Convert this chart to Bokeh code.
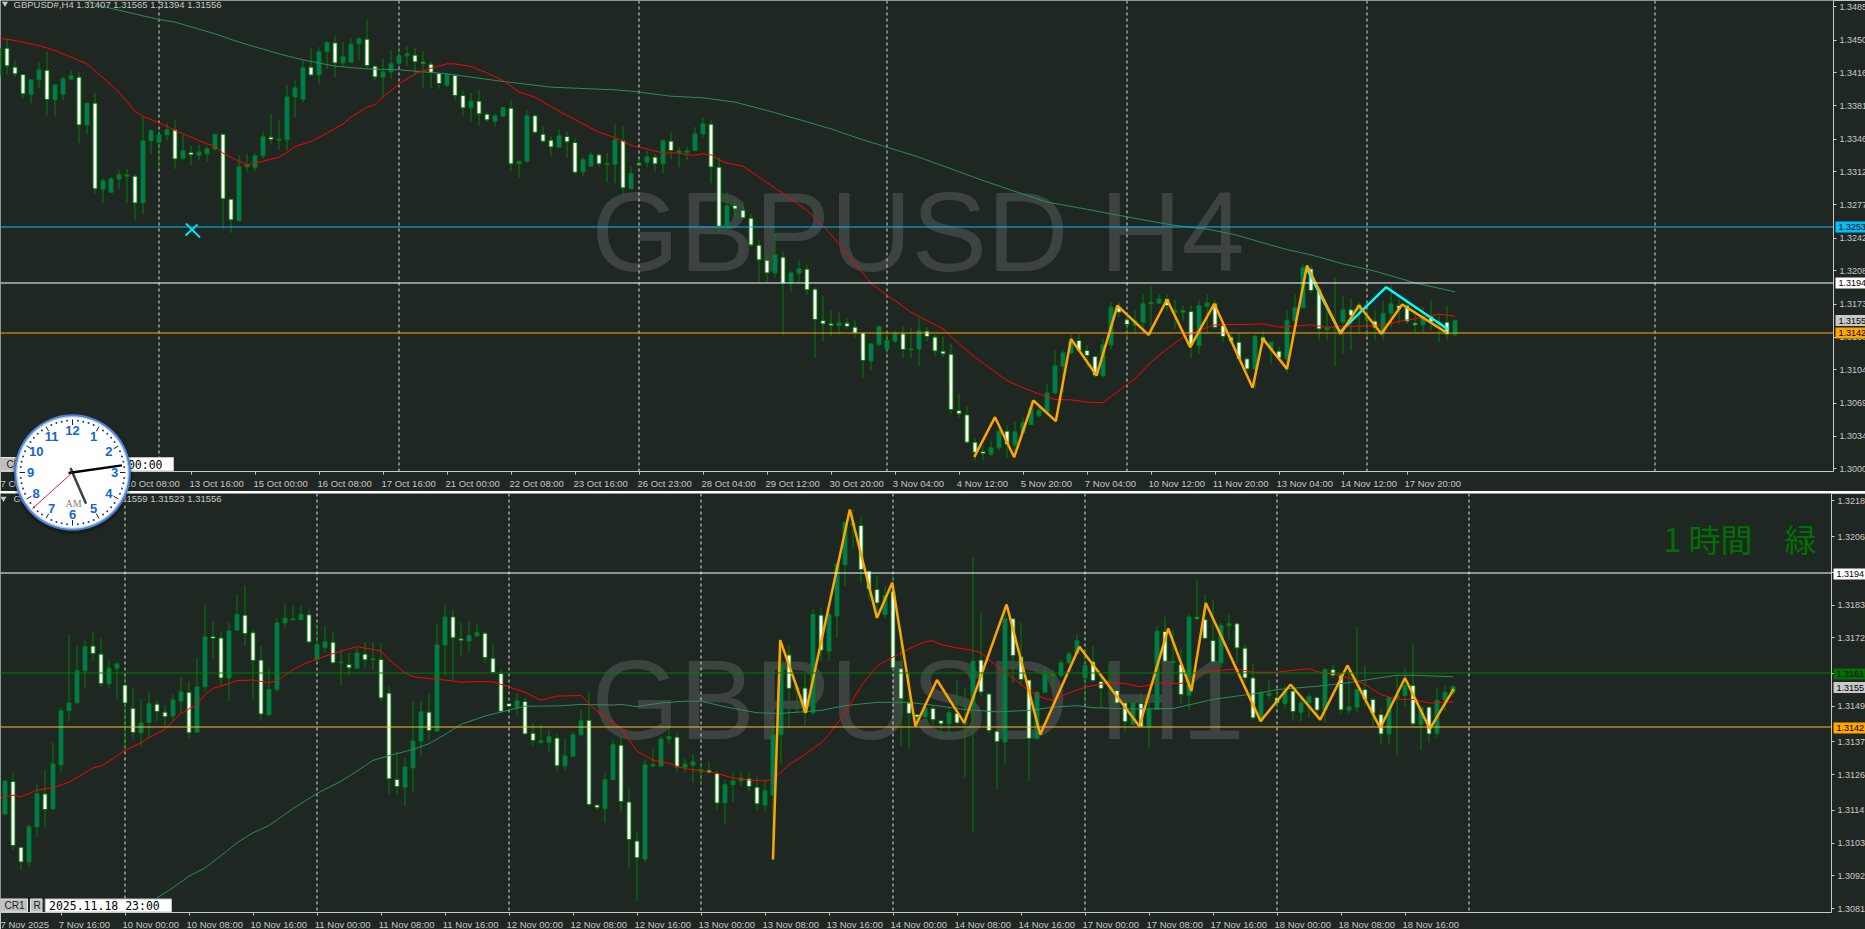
import math
from bokeh.embed import file_html
from bokeh.resources import INLINE
from bokeh.plotting import figure
from bokeh.layouts import column
from bokeh.models import FixedTicker, NumeralTickFormatter, Span, Label
from bokeh.core.properties import value

BG = "#1F2723"
GREY = "#C8C8C8"
WICK = "#008000"
TEAL = "#00786C"
AXFONT = "Liberation Sans"

# ---------- H4 candles, prices in points (1e-5) ----------
h4_dir = ("TWWWTTWTTT" "WTWTTTTWTT" "TTWTWTTTWW" "TTTTWTTTTW" "TTWTTTWWTT" "TTWWWWTWWT"
          "WWTTWTTWWW" "TWWTTWTTWT" "WTWTWTTTTW" "WTWWWWWTWT" "TWWWWTWWWT" "TTTWTTWWWW"
          "WWWWTTWTTT" "TTTTTWWWTT" "WWTTTTWTTW" "TTWWWWWTWT" "WTTTWWTTTW" "TTWTTWWWTW" "TWT")
h4_top = [134416,134416,134217,134140,134084,134189,134185,134031,134095,134126,
 134112,133839,133839,133024,133045,133086,133086,133072,133443,133549,
 133506,133559,133559,133339,133321,133325,133359,133513,133513,132831,
 133171,133192,133286,133486,133482,133461,133905,134000,134210,134217,
 134378,134476,134472,134325,134458,134514,134511,134227,134168,134252,
 134336,134357,134343,134269,134248,134150,134140,134129,133919,133860,
 133860,133723,133706,133793,133786,133230,133706,133706,133513,133450,
 133496,133489,133426,133244,133296,133296,133205,133454,133447,133100,
 133209,133275,133272,133443,133440,133338,133338,133517,133622,133618,
 133167,132761,132764,132715,132631,132348,132190,132246,132222,132057,
 132099,132096,131886,131557,131522,131532,131529,131487,131427,131312,
 131494,131347,131424,131417,131259,131448,131445,131382,131235,131203,
 130612,130566,130279,130181,130220,130395,130395,130388,130482,130640,
 130612,130797,131081,131217,131340,131347,131242,131179,131301,131697,
 131697,131564,131550,131732,131749,131784,131784,131662,131662,131651,
 131714,131739,131732,131504,131382,131329,131154,131389,131382,131329,
 131235,131557,131690,132110,132099,131879,131487,131494,131669,131669,
 131721,131592,131550,131634,131732,131714,131714,131529,131592,131599,
 131539,131539,131556]
h4_bot = [134129,134231,134147,133937,133933,134084,133877,133874,133933,134091,
 133611,133611,132940,132936,132904,133041,133072,132792,132792,133443,
 133429,133506,133254,133262,133297,133293,133307,133359,132835,132614,
 132607,133171,133167,133286,133457,133451,133454,133905,133881,134136,
 134136,134378,134262,134262,134269,134462,134234,134115,134112,134168,
 134259,134336,134273,134255,134164,134045,134028,133919,133790,133790,
 133727,133664,133650,133702,133202,133202,133230,133534,133440,133380,
 133377,133433,133114,133118,133177,133202,133198,133198,132950,132943,
 133191,133219,133202,133202,133342,133321,133321,133342,133517,133170,
 132547,132547,132729,132635,132351,132194,132057,132057,131949,131959,
 132054,131879,131567,131522,131504,131504,131494,131427,131137,131133,
 131305,131259,131340,131252,131249,131259,131389,131238,131207,130622,
 130577,130279,130174,130160,130153,130220,130255,130248,130381,130465,
 130559,130594,130797,131077,131217,131242,131189,130979,130979,131301,
 131644,131515,131504,131539,131732,131739,131714,131644,131644,131294,
 131294,131704,131487,131389,131340,131154,131049,131049,131340,131259,
 131165,131154,131557,131690,131872,131469,131459,131480,131539,131609,
 131669,131564,131480,131417,131634,131679,131546,131511,131511,131539,
 131522,131410,131407]
h4_high = [134427,134514,134287,134140,134084,134276,134381,134031,134119,134189,
 134164,133839,133947,133058,133062,133139,133149,133097,133699,133559,
 133552,133629,133664,133506,133394,133405,133394,133517,133513,132831,
 133300,133314,133314,133541,133727,133664,134031,134077,134287,134420,
 134427,134490,134549,134479,134514,134539,134717,134234,134304,134392,
 134444,134434,134420,134381,134276,134164,134154,134129,133972,133944,
 133982,133744,133727,133804,133867,133230,133762,133720,133594,133489,
 133569,133545,133475,133272,133324,133314,133314,133615,133594,133174,
 133254,133342,133307,133464,133531,133384,133384,133587,133692,133667,
 133272,132911,132834,132806,132677,132407,132239,132467,132285,132075,
 132187,132141,131907,131809,131662,131651,131574,131567,131427,131312,
 131504,131452,131452,131494,131476,131592,131487,131410,131389,131312,
 130794,130654,130314,130244,130297,130419,130454,130500,130542,130717,
 130664,130892,131242,131242,131417,131417,131294,131189,131364,131749,
 131749,131627,131662,131837,131914,131837,131837,131774,131714,131714,
 131767,131837,131774,131522,131434,131431,131172,131406,131445,131329,
 131284,131662,131837,132152,132134,131879,131679,132012,131809,131784,
 131749,131679,131662,131767,131931,131784,131767,131662,131697,131767,
 131627,131714,131565]
h4_low = [134129,134140,134112,133884,133839,133996,133710,133699,133867,134077,
 133419,133510,132894,132789,132904,132940,132789,132607,132670,133307,
 133149,133447,133149,133237,133185,133237,133219,133342,132519,132477,
 132593,133114,133125,133254,133405,133352,133342,133692,133849,134119,
 134042,134199,134112,134217,134269,134294,134199,134077,133895,134094,
 134234,134234,134129,133996,134000,133989,134007,133874,133709,133646,
 133604,133639,133594,133692,133125,133051,133219,133517,133429,133279,
 133377,133265,133097,133069,133177,133167,133002,132999,132862,132943,
 133184,133167,133121,133104,133254,133167,133237,133335,133482,132999,
 132467,132537,132652,132635,132327,131970,131942,132012,131399,131861,
 131959,131830,131165,131340,131389,131406,131469,131382,130962,131032,
 131284,131207,131319,131161,131161,131077,131340,131182,131172,130584,
 130542,130262,130087,130094,130139,130192,130115,130122,130381,130465,
 130542,130584,130787,130804,131207,131224,131067,130962,130955,131259,
 131592,131347,131417,131417,131417,131732,131662,131469,131557,131161,
 131207,131417,131469,131329,131312,131137,131032,130839,131312,131102,
 131144,131004,131539,131679,131837,131347,131347,131077,131214,131242,
 131417,131399,131347,131347,131487,131522,131522,131434,131434,131452,
 131329,131347,131394]

h4_red_bar = [0,2,5,7,9,11,13,15,17,18,20,22,24,26,27,28,30,31,33,35,36,37,39,41,43,44,46,47,48,50,52,54,56,57,59,61,63,65,67,69,71,73,75,77,78,79,81,83,85,86,87,88,89,90,91,93,95,97,99,101,103,105,107,109,111,112,114,116,118,120,122,124,126,128,130,132,134,136,138,140,142,144,146,148,150,152,154,156,158,160,162,164,166,168,170,173,175,177,179,180,182]
h4_red_val = [134522,134497,134444,134392,134322,134252,134105,133955,133752,133702,133632,133552,133482,133412,133387,133314,133227,133192,133230,133272,133321,133384,133436,133524,133622,133692,133797,133825,133902,134042,134147,134206,134252,134252,134224,134157,134077,133955,133902,133804,133709,133622,133534,133475,133440,133394,133359,133314,133317,133297,133293,133307,133297,133244,133209,133177,133062,132947,132834,132712,132554,132362,132152,131949,131819,131767,131644,131557,131469,131312,131172,131049,130927,130850,130787,130727,130724,130700,130693,130822,130944,131119,131259,131382,131452,131512,131515,131515,131522,131487,131497,131512,131487,131494,131497,131504,131550,131574,131609,131624,131602]
h4_sea_bar = [11,13,20,22,27,30,35,38,42,46,50,52,56,59,63,69,77,79,84,88,92,96,100,104,108,111,115,119,123,127,131,135,139,143,147,151,154,155,158,161,164,168,172,177,182]
h4_sea_val = [134917,134854,134717,134690,134567,134480,134357,134294,134227,134199,134189,134175,134147,134112,134067,134007,133979,133965,133912,133895,133850,133762,133667,133569,133454,133377,133272,133149,133027,132912,132800,132740,132677,132614,132555,132516,132467,132446,132372,132302,132246,132152,132075,131952,131858]
h4_zig_bar = [121.9,124.5,126.9,129.3,132.1,134,137.2,139.8,143.7,146,148.9,151.9,156.7,158,161,163.5,167.7,170,172.8,175.4,181]
h4_zig_val = [130122,130542,130122,130717,130500,131364,130979,131714,131406,131778,131277,131732,130850,131364,131049,132134,131417,131714,131417,131725,131427]
h4_cyan_bar = [163.5,167.6,173.4,181.2]
h4_cyan_val = [132099,131434,131907,131459]
h4_separators = [20,50,80,111,141,171,207]
h4_tick_bars = [8,16,24,32,40,48,56,64,72,80,88,96,104,112,120,128,136,144,152,160,168,176]
h4_tick_labels = ["9 Oct 00:00","10 Oct 08:00","13 Oct 16:00","15 Oct 00:00","16 Oct 08:00","17 Oct 16:00","21 Oct 00:00","22 Oct 08:00","23 Oct 16:00","26 Oct 23:00","28 Oct 04:00","29 Oct 12:00","30 Oct 20:00","3 Nov 04:00","4 Nov 12:00","5 Nov 20:00","7 Nov 04:00","10 Nov 12:00","11 Nov 20:00","13 Nov 04:00","14 Nov 12:00","17 Nov 20:00"]
h4_price_ticks = [1.3485,1.3450,1.3416,1.3381,1.3346,1.3312,1.3277,1.3242,1.3208,1.3173,1.3138,1.3104,1.3069,1.3034,1.3000]
h4_line_prices = [1.325388,1.319508,1.314258]
h4_line_colors = ["#00BFFF","#FFFFFF","#FFA500"]
h4_tag_prices = [1.325388,1.319508,1.31556,1.314258]
h4_tag_texts = ["1.3253","1.3194","1.3155","1.3142"]
h4_tag_colors = ["#00BFFF","#FFFFFF","#C8C8C8","#FFA500"]

# ---------- H1 candles ----------
h1_dir = ("TWWTTWTTTT" "TWWTTWWTTW" "WTTWTTWWTT" "WWWTTTTTWT" "TWTWTWTWWW" "TTTWTTWWTT"
          "WWWWTWWTTW" "TTTWWTTWWW" "TTTTWTTTWW" "TTTWWTTTWT" "WTWTTTTWWW" "TWWWWTWWTW"
          "TTWWWTWWWT" "TWTTTTWWTW" "WTWTTWTWTW" "WWTTWWWTTW" "TWTTWTWWTT" "WWWTTTWTWT" "TT")
h1_top = [131239,131237,131016,131085,131196,131195,131296,131475,131501,131609,
 131690,131692,131665,131618,131632,131561,131483,131434,131498,131497,
 131470,131511,131538,131537,131555,131723,131724,131719,131743,131798,
 131796,131737,131645,131546,131770,131785,131784,131798,131797,131696,
 131706,131705,131638,131630,131669,131665,131649,131647,131534,131244,
 131286,131373,131471,131470,131696,131790,131790,131716,131727,131738,
 131735,131651,131600,131499,131508,131506,131399,131374,131388,131383,
 131323,131394,131441,131443,131158,131243,131361,131359,131168,131037,
 131293,131294,131380,131388,131386,131296,131303,131277,131275,131265,
 131226,131239,131249,131247,131218,131206,131394,131630,131662,131552,
 131551,131798,131796,131798,131968,132106,132106,132097,131944,131882,
 131862,131877,131616,131501,131462,131485,131483,131442,131468,131466,
 131434,131641,131645,131531,131406,131784,131784,131656,131578,131537,
 131598,131597,131636,131666,131710,131627,131639,131573,131574,131543,
 131501,131501,131499,131479,131742,131741,131641,131630,131790,131789,
 131781,131711,131761,131767,131767,131685,131585,131535,131533,131518,
 131541,131541,131501,131522,131519,131613,131613,131597,131488,131546,
 131546,131513,131462,131518,131526,131560,131560,131485,131487,131510,
 131537,131556]
h1_bot = [131128,131022,130967,130967,131085,131143,131145,131293,131475,131501,
 131609,131667,131566,131566,131618,131501,131402,131401,131436,131472,
 131455,131457,131507,131401,131403,131555,131718,131585,131585,131746,
 131734,131644,131464,131462,131546,131770,131781,131781,131706,131647,
 131688,131636,131636,131619,131618,131646,131646,131518,131246,131220,
 131218,131283,131373,131408,131406,131696,131720,131711,131709,131727,
 131654,131603,131473,131489,131485,131397,131375,131369,131369,131290,
 131290,131322,131394,131160,131149,131147,131243,131170,131042,130981,
 130977,131289,131289,131380,131286,131285,131292,131270,131267,131165,
 131165,131227,131239,131220,131162,131158,131191,131394,131550,131546,
 131468,131468,131678,131675,131793,131966,132097,131949,131884,131837,
 131798,131619,131515,131466,131454,131454,131445,131431,131431,131434,
 131431,131490,131538,131408,131371,131370,131660,131580,131382,131382,
 131537,131593,131593,131636,131666,131585,131576,131550,131569,131501,
 131438,131429,131421,131423,131479,131641,131636,131529,131527,131784,
 131718,131639,131636,131761,131686,131585,131451,131440,131526,131501,
 131499,131472,131470,131501,131477,131479,131593,131478,131477,131487,
 131513,131466,131397,131397,131518,131526,131431,131429,131397,131399,
 131510,131537]
h1_high = [131239,131266,131016,131093,131226,131277,131367,131488,131731,131694,
 131711,131737,131718,131647,131636,131593,131552,131515,131538,131510,
 131492,131529,131589,131574,131653,131832,131776,131742,131770,131865,
 131896,131748,131692,131619,131787,131835,131828,131828,131815,131765,
 131761,131737,131681,131669,131686,131706,131706,131703,131557,131339,
 131317,131507,131507,131533,131768,131832,131815,131770,131776,131768,
 131739,131701,131613,131499,131533,131518,131434,131429,131412,131395,
 131380,131404,131479,131541,131158,131268,131378,131387,131216,131070,
 131311,131347,131389,131429,131401,131313,131330,131302,131305,131275,
 131244,131268,131272,131266,131252,131244,131434,131712,131697,131552,
 131597,131815,131821,131809,131974,132112,132151,132126,131944,131929,
 131896,131927,131753,131602,131462,131496,131496,131445,131490,131578,
 131552,131991,131804,131531,131406,131826,131784,131770,131578,131541,
 131619,131613,131647,131675,131734,131681,131692,131591,131638,131546,
 131507,131507,131535,131513,131759,131790,131748,131686,131798,131916,
 131865,131849,131770,131798,131772,131697,131634,131546,131578,131546,
 131560,131552,131524,131533,131524,131619,131630,131602,131608,131757,
 131627,131518,131482,131518,131597,131619,131701,131490,131490,131552,
 131560,131559]
h1_low = [131123,131006,130939,130950,131050,131084,131143,131266,131440,131499,
 131552,131641,131555,131552,131513,131345,131378,131354,131384,131440,
 131417,131440,131468,131380,131401,131541,131649,131557,131507,131742,
 131692,131513,131442,131454,131537,131753,131776,131779,131703,131638,
 131669,131630,131560,131594,131616,131616,131611,131505,131193,131193,
 131154,131201,131322,131375,131406,131591,131574,131660,131672,131720,
 131634,131600,131468,131487,131459,131395,131358,131361,131339,131272,
 131274,131322,131389,131154,131141,131098,131242,131132,130947,130835,
 130966,131289,131285,131361,131266,131266,131233,131227,131264,131143,
 131093,131168,131221,131205,131140,131137,130975,131294,131417,131468,
 131423,131462,131641,131641,131720,131893,132022,131905,131849,131787,
 131787,131613,131356,131345,131417,131434,131423,131378,131384,131429,
 131252,131070,131524,131398,131210,131294,131569,131563,131238,131376,
 131535,131546,131585,131630,131664,131501,131574,131485,131501,131496,
 131401,131429,131414,131347,131479,131630,131563,131499,131477,131781,
 131714,131636,131619,131714,131636,131574,131445,131436,131513,131481,
 131482,131443,131440,131451,131451,131434,131585,131466,131466,131470,
 131490,131423,131361,131361,131324,131488,131423,131342,131367,131386,
 131476,131523]

h1_red_bar = [-0.5,1,2,4,6,8,10,11,12,13,15,17,18,20,21,22,24,25,26,28,29,31,33,34,36,38,40,42,44,46,47,48,50,51,53,55,57,59,61,63,65,67,69,72,74,76,77,79,81,83,85,87,89,91,93,95,96,98,100,102,103,105,107,109,111,113,115,116,117,119,121,122,124,126,128,130,131,133,135,138,140,142,144,147,149,151,153,154.5,156,159,161,163,164,166,168,170,172,174,176,178,181]
h1_red_val = [131182,131191,131186,131208,131216,131235,131266,131283,131289,131305,131342,131367,131384,131412,131440,131466,131496,131529,131550,131566,131576,131578,131569,131576,131613,131639,131658,131675,131690,131681,131675,131647,131602,131589,131583,131578,131571,131573,131572,131555,131537,131510,131524,131526,131473,131434,131417,131339,131309,131298,131280,131274,131264,131249,131242,131239,131244,131294,131328,131367,131395,131468,131557,131625,131655,131683,131707,131710,131697,131686,131678,131669,131625,131585,131541,131515,131510,131535,131554,131569,131566,131555,131569,131566,131597,131608,131613,131613,131604,131604,131611,131616,131606,131599,131585,131563,131529,131513,131513,131501,131505]
h1_sea_bar = [19,21,23,25,27,29,31,33,36,39,42,44,46,48,51,53,55,57,60,63,65,69,72,76,77,79,82,85,87,90,94,97,102,105,109,113,117,120,124,128,131,134,136,141,146,151,154.5,157,159,164,168,171,174,176,181]
h1_sea_val = [130846,130880,130919,130947,130988,131031,131065,131089,131146,131197,131238,131272,131308,131324,131345,131364,131395,131429,131457,131477,131490,131491,131496,131494,131496,131489,131501,131507,131507,131488,131468,131466,131476,131492,131503,131503,131490,131479,131471,131476,131487,131492,131485,131481,131482,131513,131526,131535,131546,131557,131569,131582,131594,131594,131589]
h1_zig_bar = [96,96.9,100.1,105.6,109,110.9,113.8,116.5,119.9,125.2,129.4,134.3,141.8,145.4,148.3,150.1,156.95,160.7,164.4,167.8,171.9,175,178.1,181.1]
h1_zig_val = [130975,131712,131468,132151,131787,131905,131423,131578,131434,131832,131395,131690,131423,131751,131541,131837,131440,131563,131445,131627,131417,131585,131414,131548]
h1_separators = [15,39,63,87,111,135,159,183]
h1_tick_bars = [7,15,23,31,39,47,55,63,71,79,87,95,103,111,119,127,135,143,151,159,167,175]
h1_tick_labels = ["7 Nov 16:00","10 Nov 00:00","10 Nov 08:00","10 Nov 16:00","11 Nov 00:00","11 Nov 08:00","11 Nov 16:00","12 Nov 00:00","12 Nov 08:00","12 Nov 16:00","13 Nov 00:00","13 Nov 08:00","13 Nov 16:00","14 Nov 00:00","14 Nov 08:00","14 Nov 16:00","17 Nov 00:00","17 Nov 08:00","17 Nov 16:00","18 Nov 00:00","18 Nov 08:00","18 Nov 16:00"]
h1_price_ticks = [1.3218,1.3206,1.3194,1.3183,1.3172,1.3160,1.3149,1.3137,1.3126,1.3114,1.3103,1.3092,1.3081]
h1_line_prices = [1.319376,1.316016,1.314202]
h1_line_colors = ["#FFFFFF","#008000","#FFB732"]
h1_tag_prices = [1.319376,1.316016,1.31556,1.314202]
h1_tag_texts = ["1.3194","1.3161","1.3155","1.3142"]
h1_tag_colors = ["#FFFFFF","#007000","#C8C8C8","#FFA500"]

# clock reading
clock_hour, clock_minute, clock_second = 5, 13, 38


def direction_split(dirs, tops, bots):
    o = [b if d == "T" else t for d, t, b in zip(dirs, tops, bots)]
    c = [t if d == "T" else b for d, t, b in zip(dirs, tops, bots)]
    return o, c


def make_panel(height, frame_h, frame_w, xr, yr, ticks, tick_bars, labels, first_label):
    p = figure(width=1865, height=height, frame_width=frame_w, frame_height=frame_h,
               x_range=xr, y_range=yr, toolbar_location=None, output_backend="svg",
               x_axis_location="below", y_axis_location="right",
               background_fill_color=BG, border_fill_color=BG,
               min_border_left=0, min_border_top=0, min_border_right=0, min_border_bottom=0,
               outline_line_color=None, tools="")
    p.grid.visible = False
    yax = p.yaxis[0]
    yax.ticker = FixedTicker(ticks=ticks)
    yax.formatter = NumeralTickFormatter(format="0.0000")
    yax.axis_line_color = GREY
    yax.major_tick_line_color = GREY
    yax.major_tick_out = 3
    yax.major_tick_in = 0
    yax.minor_tick_out = 0
    yax.minor_tick_in = 0
    yax.major_label_standoff = 3
    yax.major_label_text_color = GREY
    yax.major_label_text_font = AXFONT
    yax.major_label_text_font_size = "9px"
    xax = p.xaxis[0]
    centers = []
    over = {}
    for b, l in zip(tick_bars, labels):
        c = round(b + (len(l) * 4.45 / 2 - 1) / 8, 3)
        centers.append(c)
        over[c] = l
    c0, l0 = first_label
    centers.insert(0, c0)
    over[c0] = l0
    xax.ticker = FixedTicker(ticks=centers, minor_ticks=tick_bars)
    xax.major_label_overrides = over
    xax.axis_line_color = GREY
    xax.major_tick_line_color = None
    xax.major_tick_out = 0
    xax.major_tick_in = 0
    xax.minor_tick_line_color = GREY
    xax.minor_tick_out = 3
    xax.minor_tick_in = 0
    xax.major_label_standoff = 3
    xax.major_label_text_color = GREY
    xax.major_label_text_font = AXFONT
    xax.major_label_text_font_size = "9.5px"
    return p


def draw_candles(p, dirs, tops, bots, highs, lows, start_bar=0):
    o, c = direction_split(dirs, tops, bots)
    xs = [start_bar + i for i in range(len(dirs))]
    p.segment([x for x in xs], [h / 1e5 for h in highs], xs, [l / 1e5 for l in lows],
              line_color=WICK, line_width=1)
    up_x = [x for x, a, b in zip(xs, o, c) if b >= a]
    up_o = [a / 1e5 for a, b in zip(o, c) if b >= a]
    up_c = [b / 1e5 for a, b in zip(o, c) if b >= a]
    dn_x = [x for x, a, b in zip(xs, o, c) if b < a]
    dn_o = [a / 1e5 for a, b in zip(o, c) if b < a]
    dn_c = [b / 1e5 for a, b in zip(o, c) if b < a]
    p.vbar(up_x, 0.5, up_o, up_c, fill_color=TEAL, line_color=WICK, line_width=1)
    p.vbar(dn_x, 0.5, dn_c, dn_o, fill_color="#FFFFFF", line_color=WICK, line_width=1)


def tag_strip(y_range, left, top_px, height, left_inset, half_h, prices, texts, colors):
    w = 1865 - left
    s = figure(width=w, height=height, frame_width=w, frame_height=height,
               x_range=(0, w), y_range=y_range,
               toolbar_location=None, output_backend="svg", tools="",
               background_fill_color=None, border_fill_color=None, outline_line_color=None,
               min_border_left=0, min_border_right=0, min_border_top=0, min_border_bottom=0,
               x_axis_type=None, y_axis_type=None)
    s.grid.visible = False
    s.styles = {"position": "absolute", "left": f"{left}px", "top": f"{top_px}px"}
    s.quad(left=[left_inset] * len(prices), right=[w] * len(prices),
           top=[v + half_h for v in prices], bottom=[v - half_h for v in prices],
           fill_color=colors, line_color=None)
    s.text([left_inset + 3] * len(prices), prices, text=texts,
           text_font=value(AXFONT), text_font_size="9px", text_color="#000000",
           text_align="left", text_baseline="middle")
    return s


# ---------- top panel ----------
top_x0 = 0.1875
top_price_top = 1.34917
top_y = lambda py: top_price_top - py * 3 * 3.5e-5
top_x = lambda px: top_x0 + px / 8
top = make_panel(492, 471, 1833, (top_x0, top_x0 + 1833 / 8), (top_y(471), top_price_top),
                 h4_price_ticks, h4_tick_bars, h4_tick_labels, (2.94, "7 Oct 2025"))
top.add_layout(Label(x=591, y=top_y(231), x_units="screen", y_units="data", text="GBPUSD H4",
                     text_font="Liberation Sans", text_font_size="113px", text_color="#3C4341",
                     text_baseline="alphabetic", level="underlay"))
for s in h4_separators:
    top.add_layout(Span(location=s, dimension="height", line_color="#E0E0E0", line_dash="3 3",
                        line_width=1, level="underlay"))
draw_candles(top, h4_dir, h4_top, h4_bot, h4_high, h4_low)
top.line(h4_sea_bar, [v / 1e5 for v in h4_sea_val], line_color="#2E8B57", line_width=1)
top.line(h4_red_bar, [v / 1e5 for v in h4_red_val], line_color="#FF0000", line_width=1)
top.line(h4_cyan_bar, [v / 1e5 for v in h4_cyan_val], line_color="#00FFFF", line_width=2.5)
top.line(h4_zig_bar, [v / 1e5 for v in h4_zig_val], line_color="#FFA500", line_width=2.5)
for price, col in zip(h4_line_prices, h4_line_colors):
    top.add_layout(Span(location=price, dimension="width", line_color=col, line_width=1))
# tool marker
top.line([top_x(185.5), top_x(199.5)], [top_y(223), top_y(237)], line_color="#00E8E8", line_width=2)
top.line([top_x(197), top_x(185)], [top_y(224), top_y(235)], line_color="#00E8E8", line_width=2)
# header
top.add_layout(Label(x=13, y=top_y(3.5), x_units="screen", y_units="data",
                     text="GBPUSD#,H4  1.31407 1.31565 1.31394 1.31556",
                     text_font=AXFONT, text_font_size="9.5px", text_color=GREY,
                     text_baseline="middle"))
top.scatter([top_x(4.5)], [top_y(3)], marker="inverted_triangle", size=6, fill_color=GREY, line_color=None)
# date box
top.quad(left=[top_x(0)], right=[top_x(44)], top=[top_y(457)], bottom=[top_y(470.5)],
         fill_color="#C0C0C0", line_color="#E8E8E8")
top.quad(left=[top_x(46)], right=[top_x(173)], top=[top_y(457)], bottom=[top_y(470.5)],
         fill_color="#FFFFFF", line_color="#C0C0C0")
top.add_layout(Label(x=162, y=top_y(464), x_units="screen", y_units="data", text="2025.10.09 00:00",
                     text_font="DejaVu Sans Mono", text_font_size="11.5px", text_color="#000000",
                     text_align="right", text_baseline="middle"))
top.add_layout(Label(x=6, y=top_y(464), x_units="screen", y_units="data", text="CR1",
                     text_font=AXFONT, text_font_size="10px", text_color="#202020",
                     text_baseline="middle"))

# ---------- bottom panel ----------
bot_x0 = -0.5625
bot_y = lambda py: (131815 - 1.12 * (py - 610) * 3) / 1e5
bot_x = lambda px: bot_x0 + px / 8
bottom = make_panel(435, 419, 1831, (bot_x0, bot_x0 + 1831 / 8), (bot_y(913), bot_y(494)),
                    h1_price_ticks, h1_tick_bars, h1_tick_labels, (1.8, "7 Nov 2025"))
bottom.margin = (2, 0, 0, 0)
bottom.add_layout(Label(x=591, y=bot_y(700), x_units="screen", y_units="data", text="GBPUSD H1",
                        text_font="Liberation Sans", text_font_size="113px", text_color="#3C4341",
                        text_baseline="alphabetic", level="underlay"))
for s in h1_separators:
    bottom.add_layout(Span(location=s, dimension="height", line_color="#E0E0E0", line_dash="3 3",
                           line_width=1, level="underlay"))
draw_candles(bottom, h1_dir, h1_top, h1_bot, h1_high, h1_low)
bottom.line(h1_sea_bar, [v / 1e5 for v in h1_sea_val], line_color="#2E8B57", line_width=1)
bottom.line(h1_red_bar, [v / 1e5 for v in h1_red_val], line_color="#FF0000", line_width=1)
bottom.line(h1_zig_bar, [v / 1e5 for v in h1_zig_val], line_color="#FFA500", line_width=2.5)
for price, col in zip(h1_line_prices, h1_line_colors):
    bottom.add_layout(Span(location=price, dimension="width", line_color=col, line_width=1))
bottom.add_layout(Label(x=13, y=bot_y(499), x_units="screen", y_units="data",
                        text="GBPUSD#,H1  1.31537 1.31559 1.31523 1.31556",
                        text_font=AXFONT, text_font_size="9.5px", text_color=GREY,
                        text_baseline="middle"))
bottom.scatter([bot_x(3)], [bot_y(499)], marker="inverted_triangle", size=6, fill_color=GREY, line_color=None)
bottom.add_layout(Label(x=1663, y=bot_y(538), x_units="screen", y_units="data", text="1 時間　緑",
                        text_font="Noto Sans CJK JP", text_font_size="32px", text_color="#007000",
                        text_baseline="alphabetic"))
bottom.quad(left=[bot_x(0)], right=[bot_x(27)], top=[bot_y(899.5)], bottom=[bot_y(912.5)],
            fill_color="#C0C0C0", line_color="#E8E8E8")
bottom.quad(left=[bot_x(30)], right=[bot_x(41.5)], top=[bot_y(899.5)], bottom=[bot_y(912.5)],
            fill_color="#C0C0C0", line_color="#E8E8E8")
bottom.quad(left=[bot_x(44.7)], right=[bot_x(171)], top=[bot_y(899.5)], bottom=[bot_y(912.5)],
            fill_color="#FFFFFF", line_color="#C0C0C0")
for x_px, t in ((4, "CR1"), (33, "R")):
    bottom.add_layout(Label(x=x_px, y=bot_y(906), x_units="screen", y_units="data", text=t,
                            text_font=AXFONT, text_font_size="10px", text_color="#202020",
                            text_baseline="middle"))
bottom.add_layout(Label(x=48.5, y=bot_y(906), x_units="screen", y_units="data", text="2025.11.18 23:00",
                        text_font="DejaVu Sans Mono", text_font_size="11.5px", text_color="#000000",
                        text_baseline="middle"))

# ---------- price tags: strips over the right axis, sharing each panel's price range ----------
top_tags = tag_strip(top.y_range, 1834, 0, 471, 1, 5.5 * 3 * 3.5e-5, h4_tag_prices, h4_tag_texts, h4_tag_colors)
bot_tags = tag_strip(bottom.y_range, 1832, 494, 419, 1, 5.5 * 3 * 1.12e-5, h1_tag_prices, h1_tag_texts, h1_tag_colors)

# ---------- clock ----------
clock = figure(width=124, height=124, frame_width=124, frame_height=124,
               x_range=(-62, 62), y_range=(-62, 62), toolbar_location=None,
               output_backend="svg", tools="", background_fill_color=None, border_fill_color=None,
               outline_line_color=None, min_border_left=0, min_border_right=0, min_border_top=0,
               min_border_bottom=0, x_axis_type=None, y_axis_type=None)
clock.grid.visible = False
clock.styles = {"position": "absolute", "left": "10px", "top": "410px"}
clock.circle([0], [-1.5], radius=60, fill_color="#000000", fill_alpha=0.25, line_color=None)
clock.circle([0], [0], radius=58.3, fill_color="#4C83CF", line_color=None)
clock.circle([0], [0], radius=56.3, fill_color="#BFD6F2", line_color=None)
clock.circle([0], [0], radius=55, fill_color="#FFFFFF", line_color=None)
pol = lambda r, deg: (r * math.sin(math.radians(deg)), r * math.cos(math.radians(deg)))
dots = [pol(52, a * 6) for a in range(60) if a % 5]
clock.scatter([d[0] for d in dots], [d[1] for d in dots], size=2, fill_color="#1A3A8A", line_color=None)
for h in range(12):
    (x0, y0), (x1, y1) = pol(47.5, h * 30), pol(53, h * 30)
    clock.line([x0, x1], [y0, y1], line_color="#202020", line_width=1)
nums = [(n, *pol(42, n * 30)) for n in range(1, 13)]
clock.text([n[1] for n in nums], [n[2] for n in nums], text=[str(n[0]) for n in nums],
           text_font=value("Liberation Sans"), text_font_style="bold", text_font_size="13px",
           text_color="#1565D0", text_align="center", text_baseline="middle")
clock.text([1], [-31], text=["AM"], text_font=value("Liberation Serif"), text_font_size="10px",
           text_color="#808080", text_align="center", text_baseline="middle")
h_deg = (clock_hour + clock_minute / 60) * 30
m_deg = (clock_minute + clock_second / 60) * 6
s_deg = clock_second * 6
a0, a1 = pol(-5, h_deg), pol(34, h_deg)
clock.line([a0[0], a1[0]], [a0[1], a1[1]], line_color="#404040", line_width=2.5)
a0, a1 = pol(-4, m_deg), pol(50, m_deg)
clock.line([a0[0], a1[0]], [a0[1], a1[1]], line_color="#000000", line_width=2.5)
a1 = pol(54, s_deg)
clock.line([0, a1[0]], [0, a1[1]], line_color="#E8204A", line_width=1)

p = column(top, bottom, top_tags, bot_tags, clock, spacing=0)
open("out.html", "w").write(file_html(p, INLINE))
